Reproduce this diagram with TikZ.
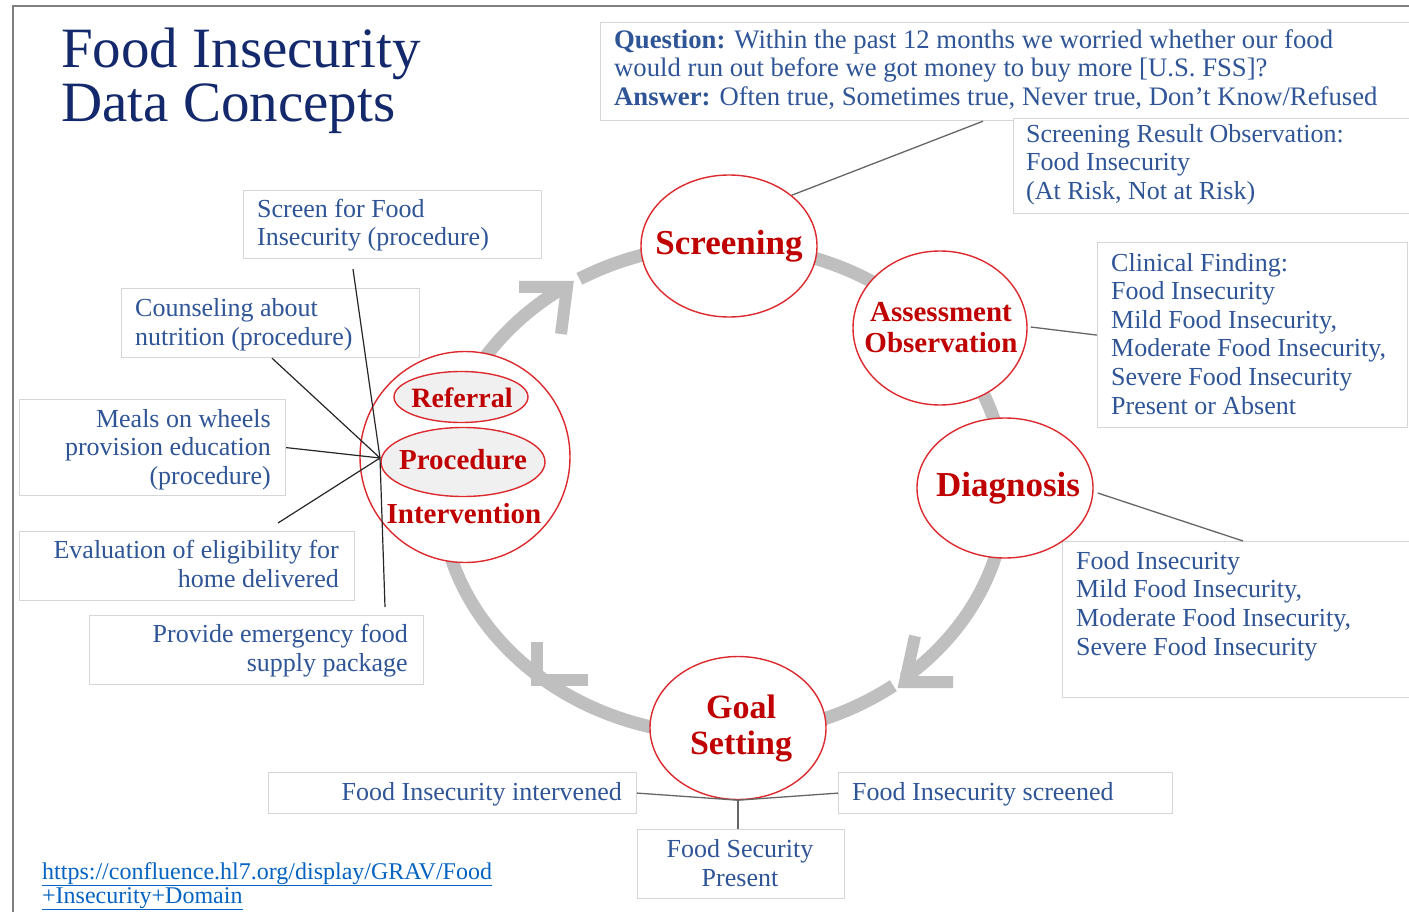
\documentclass[tikz,border=0pt]{standalone}
\usepackage{fontspec}
\setmainfont{Liberation Serif}
\usetikzlibrary{shapes.geometric,calc}
\definecolor{txtblue}{HTML}{2F5597}
\definecolor{navy}{HTML}{13296B}
\definecolor{dred}{HTML}{C00000}
\definecolor{ered}{HTML}{DC2A2E}
\definecolor{ringgray}{HTML}{BFBFBF}
\definecolor{boxline}{HTML}{D6D6D6}
\definecolor{linkblue}{HTML}{0563C1}
\newcommand{\fsz}[2]{\fontsize{#1}{#2}\selectfont}
\begin{document}
\begin{tikzpicture}[x=1pt,y=-1pt,
  box/.style={draw=boxline, line width=1.2, anchor=north west, inner sep=0, fill=white},
  btext/.style={text=txtblue, font=\fsz{26}{28.6}, inner sep=0},
  circ/.style={ellipse, draw=ered, line width=1.4, fill=white, inner sep=0},
  inell/.style={ellipse, draw=ered, line width=1.4, fill=black!6, inner sep=0},
  ctext/.style={text=dred, font=\bfseries\fsz{#1}{#1}, inner sep=0, align=center},
  ringarc/.style={draw=ringgray, line width=13},
  chev/.style={draw=ringgray, line width=12, line join=miter, line cap=butt},
  kline/.style={draw=black!85, line width=1.2},
  gline/.style={draw=black!60, line width=1.3}]
\useasboundingbox (0,0) rectangle (1409,912);
\fill[white] (0,0) rectangle (1409,912);
% slide frame
\draw[black!50, line width=2] (13,912) -- (13,6) -- (1409,6);

% title
\node[anchor=base west, text=navy, font=\fsz{57}{57}, inner sep=0] (title1) at (61,68) {Food Insecurity};
\node[anchor=base west, text=navy, font=\fsz{57}{57}, inner sep=0] (title2) at (61,122) {Data Concepts};

% ring
\coordinate (C) at (723,490);
\draw[ringarc] ([shift={(200:283 and 245)}]C) arc[start angle=200, end angle=236.2, x radius=283, y radius=245];
\draw[ringarc] ([shift={(239.5:283 and 245)}]C) arc[start angle=239.5, end angle=360, x radius=283, y radius=245];
\draw[ringarc] ([shift={(0:283 and 245)}]C) arc[start angle=0, end angle=50.3, x radius=283, y radius=245];
\draw[ringarc] ([shift={(53:283 and 245)}]C) arc[start angle=53, end angle=200, x radius=283, y radius=245];
% arrow heads
\coordinate (tl) at (567,287);
\coordinate (br) at (905,682);
\coordinate (bl) at (537,680);
\draw[chev] ([xshift=-48]tl) -- (tl) -- ([shift={(-6,47)}]tl);
\draw[chev] ([shift={(10,-46)}]br) -- (br) -- ([xshift=48]br);
\draw[chev] ([xshift=51]bl) -- (bl) -- ([yshift=38]bl);

% boxes
\node[box, minimum width=812, minimum height=98] (q) at (600,22) {};
\node[box, minimum width=398, minimum height=95] (sr) at (1013,118) {};
\node[box, minimum width=298, minimum height=68] (sf) at (243,190) {};
\node[box, minimum width=298, minimum height=69] (cs) at (121,288) {};
\node[box, minimum width=266, minimum height=96] (mw) at (19,399) {};
\node[box, minimum width=335, minimum height=69] (ev) at (19,531) {};
\node[box, minimum width=334, minimum height=69] (pv) at (89,615) {};
\node[box, minimum width=310, minimum height=185] (cf) at (1097,242) {};
\node[box, minimum width=350, minimum height=156] (dr) at (1062,541) {};
\node[box, minimum width=368, minimum height=41] (fi) at (268,772) {};
\node[box, minimum width=334, minimum height=41] (fs) at (838,772) {};
\node[box, minimum width=207, minimum height=69] (fsp) at (637,829) {};

% box texts (base anchor = baseline of the last line)
\node[btext, font=\fsz{26.7}{28.6}, anchor=base west, align=left] (qt) at (614,105.5)
  {\textbf{Question:} Within the past 12 months we worried whether our food\\
   would run out before we got money to buy more [U.S. FSS]?\\
   \textbf{Answer:} Often true, Sometimes true, Never true, Don’t Know/Refused};
\node[btext, anchor=base west, align=left] (srt) at (1026,199.5)
  {Screening Result Observation:\\Food Insecurity\\(At Risk, Not at Risk)};
\node[btext, anchor=base west, align=left] (sft) at (257,246)
  {Screen for Food\\Insecurity (procedure)};
\node[btext, anchor=base west, align=left] (cst) at (135,345)
  {Counseling about\\nutrition (procedure)};
\node[btext, anchor=base east, align=right] (mwt) at (271,484.5)
  {Meals on wheels\\provision education\\(procedure)};
\node[btext, anchor=base east, align=right] (evt) at (339,587)
  {Evaluation of eligibility for\\home delivered};
\node[btext, anchor=base east, align=right] (pvt) at (408,671)
  {Provide emergency food\\supply package};
\node[btext, anchor=base west, align=left] (cft) at (1111,414)
  {Clinical Finding:\\Food Insecurity\\Mild Food Insecurity,\\Moderate Food Insecurity,\\Severe Food Insecurity\\Present or Absent};
\node[btext, anchor=base west, align=left] (drt) at (1076,655)
  {Food Insecurity\\Mild Food Insecurity,\\Moderate Food Insecurity,\\Severe Food Insecurity};
\node[btext, anchor=base east] (fit) at (622,800) {Food Insecurity intervened};
\node[btext, anchor=base west] (fst) at (852,800) {Food Insecurity screened};
\node[btext, anchor=base, align=center] (fspt) at (740,886) {Food Security\\Present};

% link
\node[anchor=base west, inner sep=0, text=linkblue, font=\fsz{24}{24}, align=left] (lnk) at (42,903)
  {\underline{https://confluence.hl7.org/display/GRAV/Food}\\\underline{+Insecurity+Domain}};

% circles
\node[circ, minimum width=176, minimum height=142] (scr) at (729,246) {};
\node[circ, minimum width=174, minimum height=154] (ass) at (940,328) {};
\node[circ, minimum width=176, minimum height=140] (dia) at (1005,488) {};
\node[circ, minimum width=176, minimum height=143] (goal) at (738,728) {};
\node[circ, minimum width=210, minimum height=211] (int) at (465,457) {};
\node[inell, minimum width=134, minimum height=51] (ref) at (461,397) {};
\node[inell, minimum width=164, minimum height=69] (proc) at (463,462) {};

\node[ctext=35] (scrt) at (729,246) {Screening};
\node[ctext=29] (asst) at (941,328) {Assessment\\[2pt]Observation};
\node[ctext=35] (diat) at (1008,488) {Diagnosis};
\node[ctext=34] (goalt) at (741,728) {Goal\\[2pt]Setting};
\node[ctext=28] (reft) at (462,398) {Referral};
\node[ctext=29] (proct) at (463,460) {Procedure};
\node[ctext=29] (intt) at (464,514) {Intervention};

% connectors
\draw[gline] (scr.39) -- ([xshift=383]q.south west);
\draw[gline] ([shift={(3,-1)}]ass.east) -- (cf.west);
\draw[gline] ([shift={(4,5)}]dia.east) -- ([xshift=181]dr.north west);
\coordinate (P) at (380,458);
\draw[kline] ([shift={(110,10)}]sf.south west) -- (P) -- ([shift={(296,-8)}]pv.north west);
\draw[kline] ([xshift=151]cs.south west) -- (P);
\draw[kline] (mw.east) -- (P);
\draw[kline] ([shift={(259,-8)}]ev.north west) -- (P);
\draw[gline] (fi.east) -- (goal.south) -- (fs.west);
\draw[gline] (fsp.north -| goal.south) -- (goal.south);
\end{tikzpicture}
\end{document}
